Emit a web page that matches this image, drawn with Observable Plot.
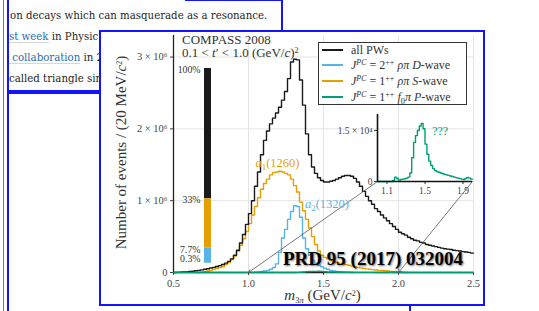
<!DOCTYPE html>
<html><head><meta charset="utf-8">
<script src="https://cdn.jsdelivr.net/npm/d3@7"></script>
<script src="https://cdn.jsdelivr.net/npm/@observablehq/plot@0.6"></script>
<style>
html,body{margin:0;padding:0;background:#fff;}
body{width:539px;height:311px;overflow:hidden;position:relative;}
.abs{position:absolute;}
.page{font-family:"DejaVu Serif",serif;font-size:10.2px;color:#1e1e1e;white-space:nowrap;line-height:21px;overflow:hidden;}
.link{color:#2a6db0;border-bottom:1px solid #d6d6d6;}
.blue{border:2px solid #1414ff;}
.serif{font-family:"Liberation Serif","Times New Roman",serif;color:#333;white-space:nowrap;}
#chart{left:99px;top:30px;width:382px;height:272px;background:#fff;z-index:2;overflow:hidden;}
#chart svg{position:absolute;}
#legend{left:217px;top:10px;width:147px;height:61px;border:1.5px solid #333;background:#fff;font-size:12px;}
.row{position:absolute;left:0;height:16px;line-height:16px;width:147px;}
.swatch{position:absolute;left:3px;top:7px;width:21px;height:0;}
.lt{position:absolute;left:32px;top:0;}
sup{font-size:8px;vertical-align:4px;line-height:0;}
sub{font-size:8.5px;vertical-align:-3px;line-height:0;}
</style></head>
<body>
<div class="abs" style="left:3px;top:0;width:1px;height:311px;background:#7a7a7a"></div>
<div class="abs blue" style="left:7px;top:-10px;width:272px;height:98px;"></div>
<div class="abs" style="left:185px;top:-1px;width:96px;height:2px;background:#1414ff"></div>
<div class="abs blue" style="left:7px;top:92px;width:400px;height:400px;"></div>

<div class="abs page" style="left:10px;top:5px;width:270px;">on decays which can masquerade as a resonance.</div>
<div class="abs page" style="left:9px;top:26px;width:91px;"><span class="link">st week</span> in Physic</div>
<div class="abs page" style="left:9px;top:47px;width:91px;"><span class="link">&nbsp;collaboration</span> in 2</div>
<div class="abs page" style="left:9px;top:68px;width:91px;">called triangle sin</div>

<div id="chart" class="abs blue">
  <div id="ylabel" class="abs serif" style="left:-110px;top:112.5px;width:260px;height:15px;line-height:15px;font-size:15px;text-align:center;transform:rotate(-90deg);">Number of events / (20 MeV/<i>c</i><sup>2</sup>)</div>
  <div id="xlabel" class="abs serif" style="left:121.5px;top:256px;width:200px;line-height:15px;font-size:15px;text-align:center;"><i>m</i><sub>3<i>π</i></sub> (GeV/<i>c</i><sup>2</sup>)</div>
  <div id="title" class="abs serif" style="left:81px;top:0.6px;line-height:13px;font-size:13px;z-index:3">COMPASS 2008<br>0.1 &lt; <i>t</i>′ &lt; 1.0 (GeV/<i>c</i>)<sup>2</sup></div>
  <div id="legend" class="abs serif" style="z-index:3"></div>
  <div id="prd" class="abs" style="left:182px;top:217px;font-family:'Liberation Serif',serif;font-weight:bold;font-size:19px;line-height:19px;color:#000;white-space:nowrap;text-shadow:1px 1px 2px rgba(0,0,0,0.55);z-index:6">PRD 95 (2017) 032004</div>
</div>

<script>
// ---------- data ----------
const binWidth = 0.02; // GeV/c^2 (20 MeV)
const seriesNames = ["all PWs", "JPC = 2++ ρπ D-wave", "JPC = 1++ ρπ S-wave", "JPC = 1++ f0π P-wave"];
const seriesColors = ["#1a1a1a", "#56B4E9", "#E69F00", "#009E73"];

// all PWs, events per bin in units of 10^6, bins starting at 0.50
const allStart = 0.50;
const allVals = [0.000,0.002,0.004,0.006,0.009,0.013,0.018,0.024,0.030,0.037,
  0.045,0.053,0.062,0.072,0.083,0.096,0.112,0.130,0.155,0.190,
  0.24,0.31,0.41,0.53,0.67,0.82,1.00,1.20,1.40,1.64,
  1.84,1.97,2.07,2.15,2.22,2.30,2.40,2.52,2.70,2.93,
  2.97,2.96,2.68,2.33,1.93,1.64,1.47,1.38,1.32,1.28,
  1.26,1.26,1.27,1.28,1.30,1.32,1.34,1.35,1.35,1.34,
  1.31,1.26,1.20,1.13,1.06,1.00,0.95,0.89,0.85,0.80,
  0.76,0.72,0.68,0.64,0.60,0.56,0.54,0.52,0.49,0.47,
  0.45,0.44,0.42,0.41,0.39,0.38,0.37,0.36,0.35,0.34,
  0.33,0.325,0.32,0.31,0.305,0.30,0.29,0.285,0.28,0.27];

// 1++ rho pi S-wave (a1(1260)), units 10^6, bins starting at 0.66
const sStart = 0.66;
const sVals = [0.000,0.005,0.012,0.020,0.030,0.045,0.060,0.070,0.080,0.110,
  0.140,0.180,0.230,0.300,0.380,0.470,0.570,0.680,0.800,0.920,
  1.040,1.160,1.240,1.300,1.360,1.390,1.400,1.410,1.400,1.380,
  1.360,1.300,1.210,1.120,0.980,0.860,0.740,0.620,0.500,0.390,
  0.300,0.240,0.210,0.190,0.170,0.150,0.140,0.130,0.120,0.110,
  0.100,0.090,0.080,0.070,0.065,0.056,0.050,0.045,0.040,0.035,
  0.030,0.028,0.024,0.020,0.016,0.013,0.010,0.006,0.003,0.001];

// 2++ rho pi D-wave (a2(1320)), units 10^6, bins starting at 1.04
const dStart = 1.04;
const dVals = [0.003,0.007,0.013,0.020,0.030,0.045,0.070,0.120,0.280,0.480,
  0.600,0.740,0.850,0.930,0.920,0.770,0.480,0.330,0.240,0.170,
  0.130,0.100,0.080,0.060,0.045,0.030,0.020,0.015,0.010,0.007,
  0.004,0.002,0.000];

// 1++ f0 pi P-wave, events per bin, bins starting at 1.00
const pStart = 1.00;
const pVals = [0,0,0,0,0,0,0,0,300,1300,
  900,400,600,700,800,1000,1300,2500,7000,11500,
  13500,15000,16300,17100,15500,11000,8000,6000,4700,3800,
  3200,2900,2700,2500,2300,2100,1950,1800,1600,1450,
  1300,1150,1000,850,700,600,900,1200,1000,700];

// axes
const xDomain = [0.5, 2.5];
const xTicks = [0.5, 1.0, 1.5, 2.0, 2.5];
const yDomain = [0, 3.3];            // 10^6 events
const yTicks = [0, 1, 2, 3];
const insetXDomain = [1.0, 2.0];
const insetXTicks = [1.1, 1.5, 1.9];
const insetYDomain = [0, 19700];
const insetYTicks = [0, 15000];

// intensity fractions (stacked bar)
const fracLabels = ["100%", "33%", "7.7%", "0.3%"];
const fracTops = [100, 33, 7.7, 0.3];

// annotations
const annBase = ["a", "a"];
const annSub = ["1", "2"];
const annMass = ["(1260)", "(1320)"];
const annX = [1.193, 1.523];
const annY = [1.52, 0.96];
const annColor = [seriesColors[2], seriesColors[1]];
const insetAnn = {text: "???", x: 1.66, y: 14700};

// ---------- helpers ----------
function steps(start, vals, scale = 1) {
  const pts = vals.map((v, i) => ({x: +(start + i * binWidth).toFixed(3), y: v * scale}));
  pts.push({x: +(start + vals.length * binWidth).toFixed(3), y: vals[vals.length - 1] * scale});
  return pts;
}
const serifStyle = {fontFamily: "Liberation Serif, serif", fontSize: "10.5px", color: "#444", background: "transparent", overflow: "visible"};

// ---------- main plot layout ----------
const W = 382, H = 272, mL = 72, mR = 10, mT = 3, mB = 32;
const inset = {left: 229, top: 76, width: 148, height: 89, mL: 47, mR: 6, mT: 6, mB: 16};

const sx = Plot.scale({x: {domain: xDomain, range: [mL, W - mR]}});
const sy = Plot.scale({y: {domain: yDomain, range: [H - mB, mT]}});
const ix0 = inset.left + inset.mL, ix1 = inset.left + inset.width - inset.mR;
const iyb = inset.top + inset.height - inset.mB;
const arrows = [
  {x1: sx.invert(ix0), y1: sy.invert(iyb), x2: insetXDomain[0], y2: 0},
  {x1: sx.invert(ix1), y1: sy.invert(iyb), x2: insetXDomain[1], y2: 0}
];

const pMain = [{x: xDomain[0], y: 0}, ...steps(pStart, pVals, 1e-6), {x: xDomain[1], y: 0}];
const annData = annBase.map((b, i) => ({x: annX[i], y: annY[i], label: b + annSub[i] + annMass[i], i}));

const main = Plot.plot({
  width: W, height: H, marginLeft: mL, marginRight: mR, marginTop: mT, marginBottom: mB,
  x: {domain: xDomain},
  y: {domain: yDomain},
  style: serifStyle,
  marks: [
    Plot.gridX(xTicks.slice(1), {stroke: "#e4e4e4", strokeOpacity: 1}),
    Plot.gridY(yTicks.slice(1), {stroke: "#e4e4e4", strokeOpacity: 1}),
    Plot.axisX(xTicks, {tickSize: 3, tickPadding: 4, tickFormat: d3.format(".1f"), label: null, stroke: "#444"}),
    Plot.axisY(yTicks, {tickSize: 3, tickPadding: 3, tickFormat: d => d === 0 ? "0" : `${d} × 10⁶`, label: null, stroke: "#444"}),
    Plot.line(steps(sStart, sVals), {x: "x", y: "y", curve: "step-after", stroke: seriesColors[2], strokeWidth: 1.4}),
    Plot.line(steps(dStart, dVals), {x: "x", y: "y", curve: "step-after", stroke: seriesColors[1], strokeWidth: 1.4}),
    Plot.line(steps(allStart, allVals), {x: "x", y: "y", curve: "step-after", stroke: seriesColors[0], strokeWidth: 1.4}),
    Plot.ruleX([xDomain[0]], {stroke: "#222", strokeWidth: 1.3}),
    Plot.ruleY([0], {stroke: "#222", strokeWidth: 1.3}),
    Plot.line(pMain, {x: "x", y: "y", curve: "step-after", stroke: seriesColors[3], strokeWidth: 1.4}),
    Plot.arrow(arrows, {x1: "x1", y1: "y1", x2: "x2", y2: "y2", stroke: "#555", strokeWidth: 0.8, headLength: 6}),
    Plot.text(annData, {x: "x", y: "y", text: "label", fill: d => annColor[d.i], fontSize: 12.5, fontFamily: "Liberation Serif, serif"})
  ]
});
// typeset the resonance names: italic a with subscript index
d3.select(main).selectAll("text").each(function() {
  const k = annData.findIndex(d => d.label === this.textContent);
  if (k < 0) return;
  const t = d3.select(this).text("");
  t.append("tspan").attr("font-style", "italic").text(annBase[k]);
  t.append("tspan").attr("font-size", 9).attr("dy", 3).text(annSub[k]);
  t.append("tspan").attr("dy", -3).text(annMass[k]);
});
main.style.left = "0px"; main.style.top = "0px";
document.getElementById("chart").appendChild(main);

// ---------- stacked fraction bar ----------
const segColors = [seriesColors[0], seriesColors[2], seriesColors[1], seriesColors[3]];
const segs = fracTops.map((t, i) => ({lo: i < fracTops.length - 1 ? fracTops[i + 1] : 0, hi: t, color: segColors[i], label: fracLabels[i]}));
const bar = Plot.plot({
  width: 55, height: 210, marginLeft: 44, marginRight: 4, marginTop: 8, marginBottom: 7.5,
  x: {type: "band", domain: ["fractions"], padding: 0, axis: null},
  y: {domain: [0, 100], axis: null},
  style: serifStyle,
  marks: [
    Plot.barY(segs, {x: () => "fractions", y1: "lo", y2: "hi", fill: "color"}),
    Plot.text(segs.filter(d => d.hi >= 1), {x: () => "fractions", y: "hi", text: "label", textAnchor: "end", dx: -7.5, dy: 1.5, fontSize: 9.8, fill: "#333"}),
    Plot.text(segs.filter(d => d.hi < 1), {x: () => "fractions", y: "hi", text: "label", textAnchor: "end", dx: -7.5, dy: -4, fontSize: 9.8, fill: "#333"})
  ]
});
bar.style.left = "59px"; bar.style.top = "28px";
document.getElementById("chart").appendChild(bar);

// ---------- inset ----------
const ins = Plot.plot({
  width: inset.width, height: inset.height,
  marginLeft: inset.mL, marginRight: inset.mR, marginTop: inset.mT, marginBottom: inset.mB,
  x: {domain: insetXDomain},
  y: {domain: insetYDomain},
  style: {...serifStyle, fontSize: "9.5px"},
  marks: [
    Plot.axisX(insetXTicks, {tickSize: 3, tickPadding: 3, tickFormat: d3.format(".1f"), label: null, stroke: "#333"}),
    Plot.axisY(insetYTicks, {tickSize: 3, tickPadding: 2, tickFormat: d => d === 0 ? "0" : "1.5 × 10⁴", label: null, stroke: "#333"}),
    Plot.line(steps(pStart, pVals), {x: "x", y: "y", curve: "step-after", stroke: seriesColors[3], strokeWidth: 1.4}),
    Plot.ruleX([insetXDomain[0]], {stroke: "#111", strokeWidth: 1.6}),
    Plot.ruleY([0], {stroke: "#111", strokeWidth: 1.6}),
    Plot.text([insetAnn], {x: "x", y: "y", text: "text", fill: seriesColors[3], fontSize: 12, fontFamily: "Liberation Serif, serif"})
  ]
});
ins.style.left = inset.left + "px"; ins.style.top = inset.top + "px";
document.getElementById("chart").appendChild(ins);

// ---------- legend ----------
const legendHTML = [
  "all PWs",
  "<i>J</i><sup><i>PC</i></sup> = 2<sup>++</sup> <i>ρπ D</i>-wave",
  "<i>J</i><sup><i>PC</i></sup> = 1<sup>++</sup> <i>ρπ S</i>-wave",
  "<i>J</i><sup><i>PC</i></sup> = 1<sup>++</sup> <i>f</i><sub>0</sub><i>π P</i>-wave"
];
const leg = document.getElementById("legend");
legendHTML.forEach((h, i) => {
  const row = document.createElement("div");
  row.className = "row";
  row.style.top = (-1.5 + i * 15.8) + "px";
  row.innerHTML = `<div class="swatch" style="border-top:${i === 0 ? 2.5 : 2}px solid ${seriesColors[i]}"></div><div class="lt">${h}</div>`;
  leg.appendChild(row);
});
</script>
</body></html>
